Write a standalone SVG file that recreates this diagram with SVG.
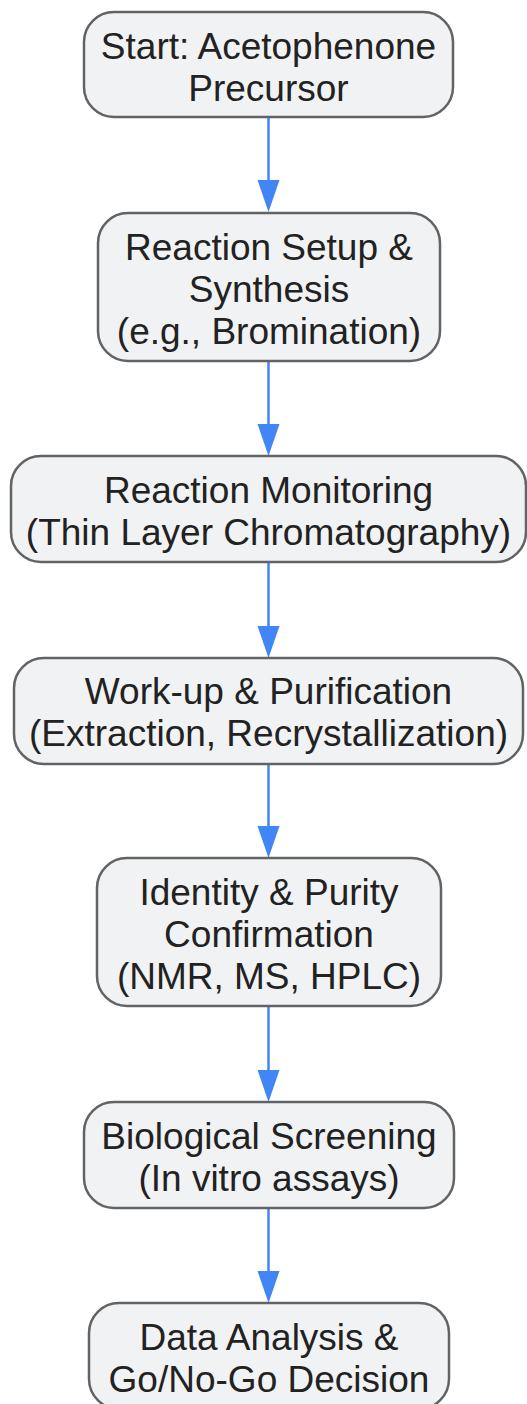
<svg xmlns="http://www.w3.org/2000/svg" width="527" height="1404" viewBox="0 0 527 1404">
<style>
.n{fill:#f1f2f4;stroke:#626366;stroke-width:2.5}
.t{font-family:"Liberation Sans",Arial,sans-serif;font-size:37px;fill:#222222;text-anchor:middle}
.e{stroke:#4285f4;stroke-width:2.5;fill:none}
</style>
<defs>
<marker id="ah" markerUnits="userSpaceOnUse" markerWidth="24" markerHeight="34" refX="11" refY="32" orient="auto-start-reverse" viewBox="0 0 22 32">
<path d="M0,0 L22,0 L11,32 Z" fill="#4285f4" transform="rotate(0)"/>
</marker>
</defs>
<rect width="527" height="1404" fill="#ffffff"/>
<g id="connectors">
<path class="e" d="M268.5,117 V180"/><path d="M257.5,180 H279.5 L268.5,212 Z" fill="#4285f4"/>
<path class="e" d="M268.5,361 V424"/><path d="M257.5,424 H279.5 L268.5,456 Z" fill="#4285f4"/>
<path class="e" d="M268.5,562 V626"/><path d="M257.5,626 H279.5 L268.5,658 Z" fill="#4285f4"/>
<path class="e" d="M268.5,764 V826"/><path d="M257.5,826 H279.5 L268.5,858 Z" fill="#4285f4"/>
<path class="e" d="M268.5,1006 V1070"/><path d="M257.5,1070 H279.5 L268.5,1102 Z" fill="#4285f4"/>
<path class="e" d="M268.5,1208 V1271"/><path d="M257.5,1271 H279.5 L268.5,1303 Z" fill="#4285f4"/>
</g>
<g id="n1">
<rect class="n" x="84" y="12" width="369" height="105" rx="30"/>
<text class="t" x="268.5" y="58.5">Start: Acetophenone</text>
<text class="t" x="268.5" y="100.5">Precursor</text>
</g>
<g id="n2">
<rect class="n" x="98" y="213" width="342" height="148" rx="30"/>
<text class="t" x="269" y="259.5">Reaction Setup &amp;</text>
<text class="t" x="269" y="301.5">Synthesis</text>
<text class="t" x="269" y="343.5">(e.g., Bromination)</text>
</g>
<g id="n3">
<rect class="n" x="11" y="456" width="515" height="106" rx="30"/>
<text class="t" x="268.5" y="502.5">Reaction Monitoring</text>
<text class="t" x="268.5" y="544.5">(Thin Layer Chromatography)</text>
</g>
<g id="n4">
<rect class="n" x="14" y="658" width="509" height="106" rx="30"/>
<text class="t" x="268.5" y="704">Work-up &amp; Purification</text>
<text class="t" x="268.5" y="746">(Extraction, Recrystallization)</text>
</g>
<g id="n5">
<rect class="n" x="97" y="858" width="344" height="148" rx="30"/>
<text class="t" x="269" y="904.5">Identity &amp; Purity</text>
<text class="t" x="269" y="946.5">Confirmation</text>
<text class="t" x="269" y="988.5">(NMR, MS, HPLC)</text>
</g>
<g id="n6">
<rect class="n" x="84" y="1102" width="370" height="106" rx="30"/>
<text class="t" x="269" y="1148.5">Biological Screening</text>
<text class="t" x="269" y="1190.5">(In vitro assays)</text>
</g>
<g id="n7">
<rect class="n" x="89" y="1303" width="360" height="106" rx="30"/>
<text class="t" x="269" y="1349.5">Data Analysis &amp;</text>
<text class="t" x="269" y="1391.5">Go/No-Go Decision</text>
</g>
</svg>
